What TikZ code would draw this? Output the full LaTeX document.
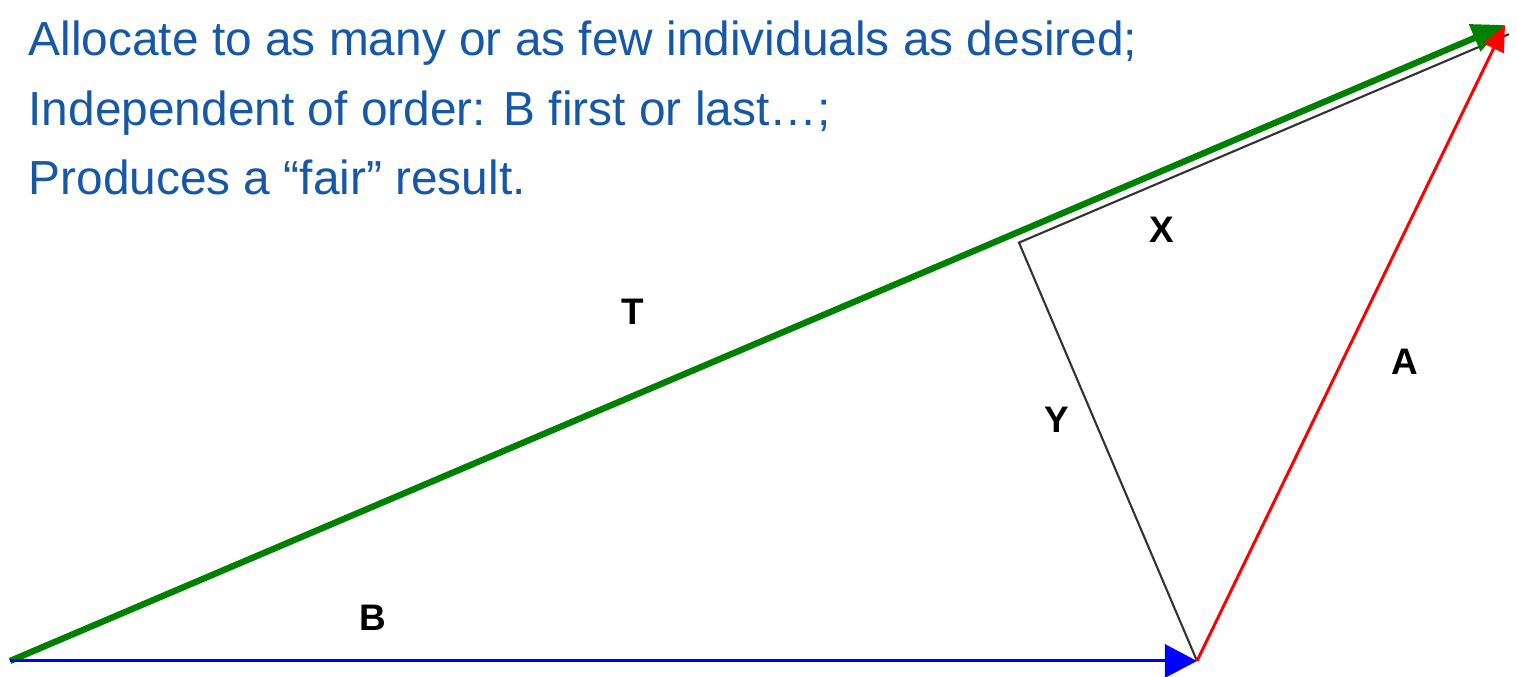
\documentclass[tikz,border=0pt]{standalone}
\usepackage{fontspec}
\setmainfont{Liberation Sans}
\usetikzlibrary{arrows.meta,calc}
\definecolor{textblue}{RGB}{22,88,166}
\definecolor{vgreen}{RGB}{0,128,0}
\begin{document}
\begin{tikzpicture}[x=0.01cm,y=0.01cm,
    note/.style={anchor=base west,inner sep=0pt,text=textblue,font=\fontsize{13.6}{16}\selectfont},
    lbl/.style={font=\bfseries\fontsize{10.5}{12}\selectfont,inner sep=0pt},
    helper/.style={black!80,line width=0.6pt}]
  \useasboundingbox (0,0) rectangle (1517,677);
  % end points of the vectors
  \coordinate (O) at (10,16);
  \coordinate (Bend) at (1197,16);
  \coordinate (Tip) at (1505,652);
  % foot of the perpendicular from Bend onto T, shifted off the T line
  \coordinate (Foot) at ($(O)!(Bend)!(Tip)$);
  \coordinate (FootS) at ($(Foot)!0.1cm!(Bend)$);
  \coordinate (TipS) at ($(Tip)+(FootS)-(Foot)$);
  % thin black lines: Y and X
  \draw[helper] (Bend) -- (FootS) -- (TipS);
  % vectors T, B, A
  \draw[vgreen,line width=1.8pt,-{Triangle[length=3.3mm,width=2.8mm]}] (O) -- (Tip);
  \draw[blue,line width=0.85pt,-{Triangle[length=3.2mm,width=3.3mm]}] (O) -- (Bend);
  \draw[red,line width=0.85pt,-{Triangle[length=2.6mm,width=2.2mm]}] (Bend) -- (Tip);
  % labels
  \foreach \name/\x/\y in {T/633/365, X/1162/447, Y/1057/257, A/1405/315, B/373/59}
    \node[lbl] (lbl\name) at (\x,\y) {\name};
  % text lines at the top
  \node[note] (line1) at (28,621) {Allocate to as many or as few individuals as desired;};
  \node[note] (line2) at (28,551) {Independent of order: B first or last…;};
  \node[note] (line3) at (28,482) {Produces a “fair” result.};
\end{tikzpicture}
\end{document}
